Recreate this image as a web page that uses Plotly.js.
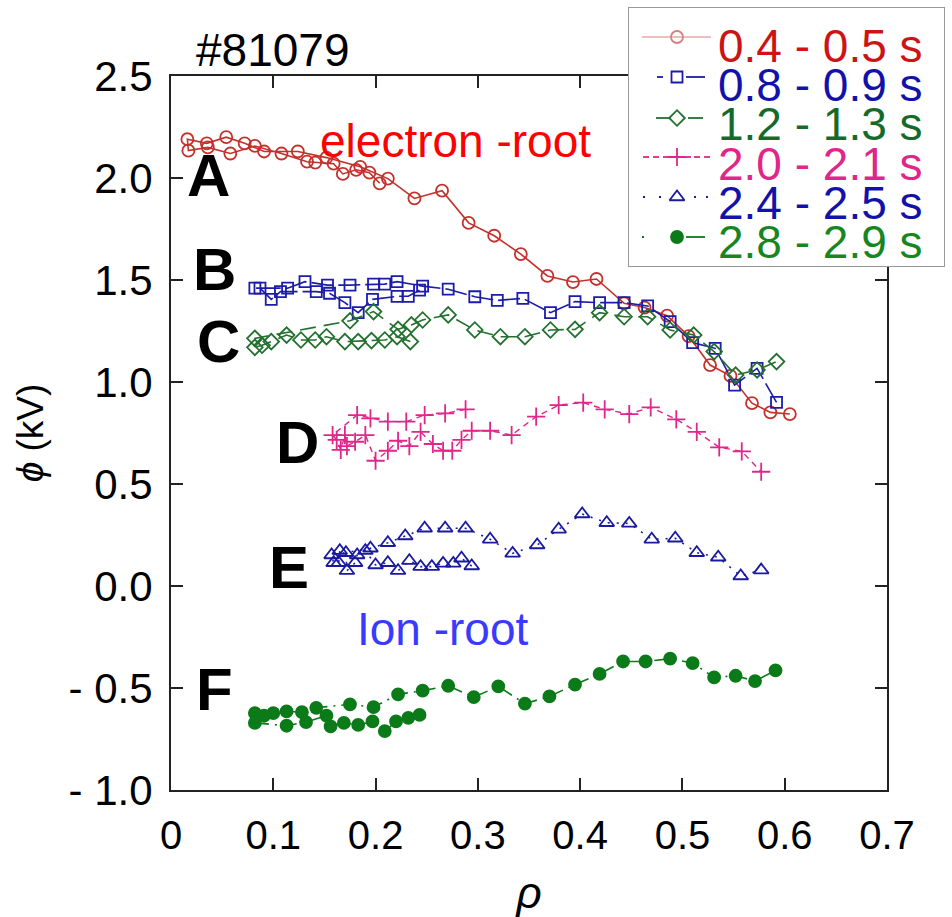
<!DOCTYPE html>
<html>
<head>
<meta charset="utf-8">
<script src="https://cdn.plot.ly/plotly-3.0.1.min.js"></script>
<style>html,body{margin:0;padding:0;background:#fff;}#chart{width:952px;height:917px;}</style>
</head>
<body>
<div id="chart"></div>
<script>
// ---------------- DATA (in drawing order) ----------------
const RED_X = [0.204,0.194,0.181,0.168,0.159,0.141,0.133,0.108,0.082,0.058,0.036,0.017,
               0.016,0.035,0.054,0.072,0.091,0.124,0.152,0.185,0.212,
               0.238,0.265,0.291,0.316,0.342,0.368,0.393,0.416,0.443,0.463,0.485,0.506,0.527,0.547,0.568,0.586,0.605];
const RED_Y = [1.974,2.026,2.04,2.02,2.07,2.075,2.08,2.12,2.157,2.12,2.15,2.134,
               2.19,2.17,2.20,2.17,2.13,2.13,2.10,2.055,1.997,
               1.90,1.938,1.78,1.717,1.627,1.52,1.49,1.505,1.386,1.365,1.325,1.225,1.083,1.03,0.896,0.851,0.843];

const BLUE_X = [0.243,0.232,0.221,0.197,0.183,0.170,0.155,0.142,0.107,0.098,0.087,
                0.082,0.114,0.131,0.153,0.175,0.198,0.209,0.221,0.246,
                0.271,0.297,0.319,0.344,0.371,0.395,0.419,0.443,0.466,0.488,0.510,0.532,0.551,0.573,0.592];
const BLUE_Y = [1.45,1.42,1.42,1.405,1.34,1.389,1.435,1.443,1.443,1.405,1.46,
                1.46,1.46,1.492,1.475,1.475,1.48,1.48,1.492,1.47,
                1.455,1.418,1.40,1.41,1.34,1.394,1.389,1.389,1.373,1.296,1.193,1.165,0.985,1.067,0.90];

const GD_X = [0.234,0.221,0.209,0.196,0.183,0.170,0.152,0.141,0.127,0.113,0.098,0.089,0.082,0.082,
              0.175,0.198,0.222,0.235,0.246,0.271,
              0.297,0.322,0.346,0.371,0.395,0.419,0.443,0.466,0.488,0.511,0.531,0.552,0.573,0.592];
const GD_Y = [1.198,1.222,1.206,1.203,1.198,1.198,1.222,1.206,1.206,1.23,1.198,1.18,1.17,1.214,
              1.30,1.345,1.258,1.28,1.304,1.329,
              1.255,1.222,1.222,1.255,1.258,1.34,1.32,1.32,1.255,1.23,1.149,1.034,1.059,1.10];

const MG_X = [0.288,0.268,0.248,0.230,0.212,0.195,0.182,
              0.158,0.162,0.166,0.170,0.172,0.180,0.190,0.200,0.212,0.222,0.233,0.244,0.256,0.266,0.275,0.284,
              0.294,0.312,0.333,0.357,0.379,0.403,0.424,0.448,0.469,0.494,0.514,0.536,0.558,0.577];
const MG_Y = [0.866,0.846,0.838,0.806,0.806,0.822,0.838,
              0.74,0.716,0.667,0.74,0.686,0.707,0.74,0.614,0.663,0.712,0.686,0.756,0.696,0.663,0.663,0.716,
              0.761,0.761,0.74,0.83,0.887,0.899,0.866,0.843,0.876,0.817,0.756,0.68,0.66,0.56];

const TR_X = [0.294,0.284,0.276,0.266,0.255,0.244,0.233,0.222,0.212,0.200,0.190,0.182,0.180,0.172,0.171,0.165,0.164,0.159,0.157,
              0.195,0.212,0.229,0.248,0.268,0.288,
              0.312,0.334,0.358,0.379,0.402,0.426,0.448,0.470,0.493,0.514,0.535,0.557,0.577];
const TR_Y = [0.098,0.136,0.111,0.111,0.095,0.095,0.124,0.075,0.114,0.103,0.173,0.152,0.114,0.075,0.163,0.173,0.114,0.114,0.152,
              0.185,0.212,0.245,0.283,0.283,0.283,
              0.229,0.16,0.201,0.278,0.353,0.31,0.307,0.229,0.234,0.163,0.141,0.049,0.078];

const FG_X = [0.243,0.232,0.220,0.209,0.197,0.183,0.169,0.156,0.152,0.132,0.113,0.082,
              0.082,0.091,0.100,0.113,0.128,0.142,0.175,0.198,0.222,0.246,
              0.271,0.296,0.320,0.346,0.370,0.395,0.419,0.442,0.464,0.488,0.510,0.531,0.552,0.571,0.591];
const FG_Y = [-0.632,-0.646,-0.664,-0.711,-0.664,-0.681,-0.671,-0.688,-0.636,-0.667,-0.685,-0.671,
              -0.623,-0.636,-0.623,-0.615,-0.618,-0.597,-0.58,-0.594,-0.531,-0.513,
              -0.489,-0.545,-0.492,-0.577,-0.541,-0.483,-0.431,-0.37,-0.37,-0.356,-0.378,-0.448,-0.44,-0.466,-0.414];

const SERIES_NAMES = ["0.4 - 0.5 s","0.8 - 0.9 s","1.2 - 1.3 s","2.0 - 2.1 s","2.4 - 2.5 s","2.8 - 2.9 s"];
const X_TICKVALS = [0,0.1,0.2,0.3,0.4,0.5,0.6,0.7];
const X_TICKTEXT = ["0","0.1","0.2","0.3","0.4","0.5","0.6","0.7"];
const Y_TICKVALS = [-1,-0.5,0,0.5,1,1.5,2,2.5];
const Y_TICKTEXT = ["- 1.0","- 0.5","0.0","0.5","1.0","1.5","2.0","2.5"];
const CASE_LABELS = ["A","B","C","D","E","F"];
const SHOT_LABEL = "#81079";
const REGIME_LABELS = ["electron -root","Ion -root"];

// ---------------- STYLE ----------------
const FONT = "Liberation Sans, Arial, Helvetica, sans-serif";
const STYLES = [
  {color:"#c4302b", symbol:"circle-open",      size:12, dash:"solid",            lw:1.6, textColor:"#cc1414", legendLine:"#d98080"},
  {color:"#1c1caa", symbol:"square-open",      size:11, dash:"22px,5px",         lw:1.6, textColor:"#1212aa", legendLine:"#1c1caa"},
  {color:"#23702f", symbol:"diamond-open",     size:12, dash:"16px,8px",         lw:1.6, textColor:"#146a2a", legendLine:"#23702f"},
  {color:"#e0268a", symbol:"cross-thin-open",  size:13, dash:"6px,5px",          lw:1.4, textColor:"#e0268a", legendLine:"#e0268a"},
  {color:"#1a1aa0", symbol:"triangle-up-open", size:13, dash:"2px,7px",          lw:1.6, textColor:"#1212aa", legendLine:"#1a1aa0"},
  {color:"#0b7a18", symbol:"circle",           size:12, dash:"14px,6px,2px,6px", lw:1.6, textColor:"#17861f", legendLine:"#0b7a18"}
];
const DATA_X = [RED_X, BLUE_X, GD_X, MG_X, TR_X, FG_X];
const DATA_Y = [RED_Y, BLUE_Y, GD_Y, MG_Y, TR_Y, FG_Y];

// pixel helpers (paper spans x 171..947, y 5..790)
const PL = 171, PR = 947, PT = 5, PB = 790;
const pxX = x => (x - PL) / (PR - PL);
const pxY = y => (PB - y) / (PB - PT);

const traces = [];
for (let i = 0; i < 6; i++) {
  const s = STYLES[i];
  traces.push({
    type: "scatter", mode: "lines+markers", name: SERIES_NAMES[i],
    x: DATA_X[i], y: DATA_Y[i], xaxis: "x", yaxis: "y",
    line: {color: s.color, width: s.lw, dash: s.dash},
    marker: {symbol: s.symbol, size: s.size, color: s.color, line: {color: s.color, width: 1.8}},
    cliponaxis: false, hoverinfo: "skip"
  });
}

// ---------------- hand-drawn legend (on a helper pixel axis) ----------------
const LEG_ROW_Y = [37, 77, 118, 157, 197, 237];
const LEG_TEXT_Y = [46, 85, 124, 164, 203, 242];
const LEG_MARK_X = 677;
const LEG_SEGMENTS = [
  [[642,711]],
  [[657,663],[686,705]],
  [[656,671],[688,703]],
  [[643,649],[653,659],[663,669],[685,691],[694,700],[704,710]],
  [[643,645],[659,661],[694,696],[706,708]],
  [[642,644],[686,705]]
];
for (let i = 0; i < 6; i++) {
  const s = STYLES[i];
  const lx = [], ly = [];
  LEG_SEGMENTS[i].forEach(seg => { lx.push(seg[0], seg[1], null); ly.push(LEG_ROW_Y[i], LEG_ROW_Y[i], null); });
  traces.push({type:"scatter", mode:"lines", x:lx, y:ly, xaxis:"x2", yaxis:"y2",
    line:{color:s.legendLine, width: i===0 ? 1.2 : 1.8}, hoverinfo:"skip", showlegend:false});
  traces.push({type:"scatter", mode:"markers", x:[LEG_MARK_X], y:[LEG_ROW_Y[i]], xaxis:"x2", yaxis:"y2",
    marker:{symbol:s.symbol, size:s.size, color: i===0 ? "#d98080" : s.color, line:{color: i===0 ? "#d98080" : s.color, width:1.8}},
    hoverinfo:"skip", showlegend:false, cliponaxis:false});
}

const annotations = [];
for (let i = 0; i < 6; i++) {
  annotations.push({xref:"paper", yref:"paper", x:pxX(716), y:pxY(LEG_TEXT_Y[i]), xanchor:"left", yanchor:"middle",
    text: SERIES_NAMES[i], showarrow:false, font:{family:FONT, size:46, color:STYLES[i].textColor}});
}
const CASE_POS = [[208,176],[214,269],[218,341],[297,442],[289,567],[214,689]];
CASE_LABELS.forEach((t, i) => annotations.push({xref:"paper", yref:"paper", x:pxX(CASE_POS[i][0]), y:pxY(CASE_POS[i][1]),
  xanchor:"center", yanchor:"middle", text:"<b>"+t+"</b>", showarrow:false, font:{family:FONT, size:60, color:"#000"}}));
annotations.push({xref:"paper", yref:"paper", x:pxX(194), y:pxY(50), xanchor:"left", yanchor:"middle",
  text:SHOT_LABEL, showarrow:false, font:{family:FONT, size:46, color:"#000"}});
annotations.push({xref:"paper", yref:"paper", x:pxX(455), y:pxY(141), xanchor:"center", yanchor:"middle",
  text:REGIME_LABELS[0], showarrow:false, font:{family:FONT, size:46, color:"#ff0000"}});
annotations.push({xref:"paper", yref:"paper", x:pxX(443), y:pxY(629), xanchor:"center", yanchor:"middle",
  text:REGIME_LABELS[1], showarrow:false, font:{family:FONT, size:46, color:"#3a3aff"}});

const axisCommon = {
  showline:true, linecolor:"#222", linewidth:2, mirror:"ticks",
  ticks:"inside", ticklen:12, tickwidth:2, tickcolor:"#222",
  showgrid:false, zeroline:false, tickmode:"array"
};

const layout = {
  width:952, height:917,
  margin:{l:PL, r:952-PR, t:PT, b:917-PB, pad:0},
  paper_bgcolor:"#fff", plot_bgcolor:"#fff",
  showlegend:false,
  font:{family:FONT, color:"#000"},
  xaxis: Object.assign({}, axisCommon, {
    domain:[0, (887-PL)/(PR-PL)], range:[0,0.7], anchor:"y",
    tickvals:X_TICKVALS, ticktext:X_TICKTEXT, ticklabelstandoff:9,
    tickfont:{family:FONT, size:40, color:"#000"},
    title:{text:"<i>ρ</i>", font:{family:FONT, size:44, color:"#000"}, standoff:22}
  }),
  yaxis: Object.assign({}, axisCommon, {
    domain:[0, (PB-76)/(PB-PT)], range:[-1,2.5], anchor:"x",
    tickvals:Y_TICKVALS, ticktext:Y_TICKTEXT, ticklabelstandoff:8,
    tickfont:{family:FONT, size:42, color:"#000"},
    title:{text:"<i>ϕ</i> (kV)", font:{family:FONT, size:37, color:"#000"}, standoff:14}
  }),
  xaxis2:{domain:[pxX(628), pxX(945)], range:[628,945], visible:false, anchor:"y2", fixedrange:true},
  yaxis2:{domain:[pxY(267), pxY(7)], range:[267,7], visible:false, anchor:"x2", fixedrange:true},
  shapes:[{type:"rect", xref:"x2", yref:"y2", x0:628, x1:945, y0:7, y1:267, layer:"below",
    fillcolor:"#fff", line:{color:"#999", width:2}}],
  annotations: annotations
};

Plotly.newPlot("chart", traces, layout, {displayModeBar:false, staticPlot:true});
</script>
</body>
</html>
